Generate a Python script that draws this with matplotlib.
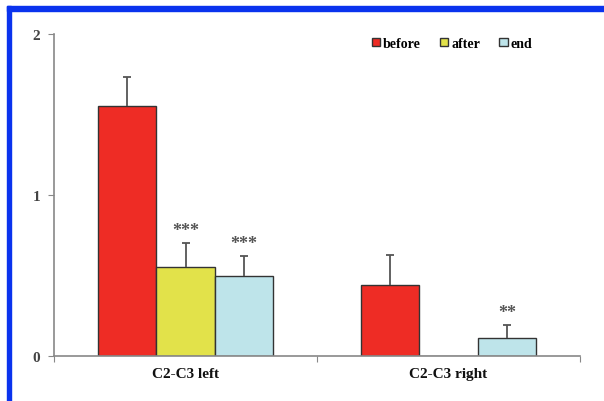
import matplotlib
matplotlib.use("Agg")
import matplotlib.pyplot as plt
import numpy as np
from matplotlib.patches import Rectangle

categories = ["C2-C3 left", "C2-C3 right"]
series = ["before", "after", "end"]
before = [1.55, 0.44]
after = [0.55, 0.0]
end = [0.50, 0.11]
before_err = [0.18, 0.19]
after_err = [0.15, 0.0]
end_err = [0.12, 0.08]
sig_after = ["***", ""]
sig_end = ["***", "**"]
yticks = [0, 1, 2]

colors = ["#ee2c25", "#e2e24a", "#bee4ea"]

plt.rcParams['font.family'] = ['Liberation Serif', 'DejaVu Serif']

fig = plt.figure(figsize=(6.04, 4.02), dpi=100)
ax = fig.add_axes([54/604, 1-357/402, (580-54)/604, (357-35)/402])

x = np.arange(len(categories))
w = 0.222
vals = [before, after, end]
errs = [before_err, after_err, end_err]
for i, (v, e, c, s) in enumerate(zip(vals, errs, colors, series)):
    pos = x + (i-1)*w
    ax.bar(pos, v, width=w, color=c, edgecolor="#333333", linewidth=1.0, label=s, zorder=2)
    for p, vv, ee in zip(pos, v, e):
        if ee > 0:
            eb = ax.errorbar(p, vv, yerr=[[0], [ee]], fmt='none', ecolor="#555555",
                             elinewidth=1.3, capsize=3, capthick=1.3, zorder=3)
            eb[1][0].set_visible(False)

for i, (sig, v, e) in enumerate([(sig_after, after, after_err), (sig_end, end, end_err)]):
    pos = x + i*w
    for p, s, vv, ee in zip(pos, sig, v, e):
        if s:
            ax.text(p, vv+ee+0.025, s, ha='center', va='bottom', fontsize=13,
                    color="#555555", fontweight='bold')

ax.set_xlim(-0.5, 1.5)
ax.set_ylim(0, 2)
ax.set_yticks(yticks)
ax.set_yticklabels([str(t) for t in yticks], fontsize=11, fontweight='bold', color="#444444")
ax.set_xticks([-0.5, 0.5, 1.5], minor=False)
ax.set_xticklabels(["", "", ""])
ax.set_xticks(x, minor=True)
ax.set_xticklabels(categories, minor=True, fontsize=11, fontweight='bold', color="#111111")
ax.tick_params(axis='x', which='minor', length=0, pad=8)
ax.tick_params(axis='x', which='major', length=4, color="#888888", direction='out')
ax.tick_params(axis='y', length=4, color="#888888", direction='out', pad=6)
for sp in ['top', 'right']:
    ax.spines[sp].set_visible(False)
for sp in ['left', 'bottom']:
    ax.spines[sp].set_color("#888888")
    ax.spines[sp].set_linewidth(1.2)

leg = ax.legend(loc='upper left', bbox_to_anchor=(0.58, 1.03), ncol=3, frameon=False,
                handlelength=0.6, handleheight=0.6, handletextpad=0.2, columnspacing=1.4,
                prop={'weight': 'bold', 'size': 10})

# blue frame
fig.patches.append(Rectangle((7/604, 0), 4/604, 1-7/402, transform=fig.transFigure,
                             color="#0a33ee", zorder=10))
fig.patches.append(Rectangle((7/604, 1-12/402), 1-7/604, 5/402, transform=fig.transFigure,
                             color="#0a33ee", zorder=10))

fig.savefig("out.png", dpi=100)
